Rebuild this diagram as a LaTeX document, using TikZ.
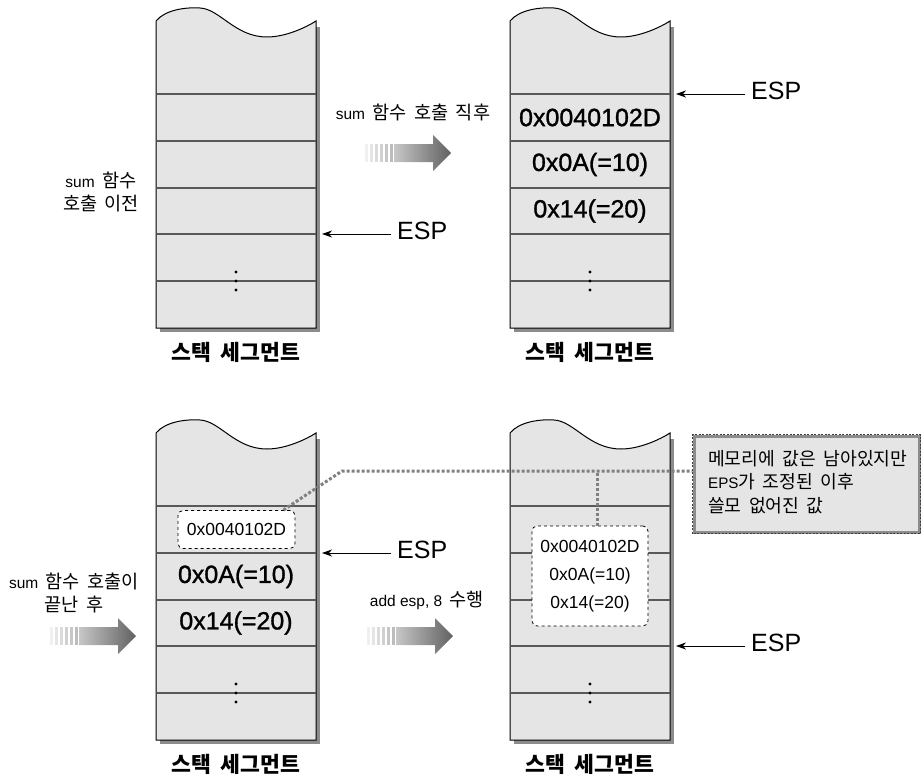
\documentclass[tikz,border=0pt]{standalone}
\usepackage{fontspec}
\setmainfont{Liberation Sans}
\newfontfamily\kr{Noto Sans CJK KR}[Scale=1.2, WordSpace=1.8]
\newfontfamily\valfont{Liberation Sans}[FakeBold=1.2]
\usetikzlibrary{arrows.meta}

\tikzset{
  stackbody/.style={fill=black!10, draw=black, line width=1pt},
  rowline/.style={draw=black!65, line width=1.2pt},
  valtext/.style={font=\valfont\fontsize{25}{28}\selectfont, inner sep=0pt},
  esptext/.style={font=\fontsize{25}{28}\selectfont, inner sep=0pt, anchor=west},
  esparrow/.style={draw, line width=1pt, -{Stealth[length=10pt,width=7pt,inset=3pt]}},
  note/.style={font=\fontsize{15.5}{23}\selectfont, align=center, inner sep=0pt},
  segtext/.style={font=\kr\bfseries\fontsize{18}{24}\selectfont, inner sep=0pt},
  smallbox/.style={draw, dashed, fill=white, rounded corners=5pt, line width=0.8pt,
    font=\fontsize{17.5}{28}\selectfont, align=center, inner sep=0pt},
  dotline/.style={draw=black!50, line width=3pt, dash pattern=on 3pt off 2pt},
  notebox/.style={fill=black!10, draw=black!45, line width=3pt, inner sep=0pt},
  notetext/.style={font=\fontsize{15.2}{23.5}\selectfont, align=left, inner sep=0pt, anchor=west},
}

\newcommand\drawstack[3]{%
  \fill[black!45] (#1+160,#2+6) rectangle (#1+163.5,#2+310.5);
  \fill[black!45] (#1+4,#2+307) rectangle (#1+163.5,#2+310.5);
  \path[stackbody] (#1,#2) .. controls (#1+9,#2-11) and (#1+29,#2-14) .. (#1+44,#2-13)
     .. controls (#1+64,#2-12) and (#1+79,#2+16) .. (#1+111,#2+16)
     .. controls (#1+129,#2+16) and (#1+149,#2+7) .. (#1+160,#2)
     -- (#1+160,#2+307) -- (#1,#2+307) -- cycle;
  \foreach \i/\d in {1/73,2/120,3/167,4/213,5/260} {
    \draw[rowline] (#1+0.5,#2+\d) -- (#1+159.5,#2+\d);
    \coordinate (#3-e\i) at (#1+166,#2+\d);
  }
  \coordinate (#3-c1) at (#1+80,#2+96.5);
  \coordinate (#3-c2) at (#1+80,#2+143.5);
  \coordinate (#3-c3) at (#1+80,#2+190);
  \foreach \d in {251,260,269} \fill (#1+80,#2+\d) circle (1.7);
  \node[segtext] (#3-seg) at (#1+80,#2+331.5) {스택 세그먼트};
}

\newcommand\garrow[2]{%
  \foreach \k/\c in {0/6,1/10,2/14,3/18,4/22,5/26}
    \fill[black!\c] (#1+\k*5,#2-9) rectangle (#1+\k*5+2.8,#2+9);
  \shade[left color=black!22,right color=black!62] (#1+29,#2-9) -- (#1+68,#2-9)
    -- (#1+68,#2-18) -- (#1+86,#2) -- (#1+68,#2+18) -- (#1+68,#2+9) -- (#1+29,#2+9) -- cycle;
}

\begin{document}
\begin{tikzpicture}[x=1pt,y=-1pt]
\useasboundingbox (0,0) rectangle (921,776);

\drawstack{156}{21}{tl}
\drawstack{510}{21}{tr}
\drawstack{156}{433}{bl}
\drawstack{510}{433}{br}

% top left
\node[note] (lblA) at (101,192) {sum{\kr~함수}\\{\kr 호출 이전}};
\node[esptext] (espA) at ([xshift=75pt,yshift=3pt]tl-e4) {ESP};
\draw[esparrow] ([xshift=-6pt,yshift=-3pt]espA.west) -- (tl-e4);

% top middle
\node[note] (lblB) at (413,112) {sum{\kr~함수 호출 직후}};
\garrow{365}{153}

% top right
\node[valtext] (v1) at (tr-c1) {0x0040102D};
\node[valtext] (v2) at (tr-c2) {0x0A(=10)};
\node[valtext] (v3) at (tr-c3) {0x14(=20)};
\node[esptext] (espB) at ([xshift=75pt,yshift=3pt]tr-e1) {ESP};
\draw[esparrow] ([xshift=-6pt,yshift=-3pt]espB.west) -- (tr-e1);

% bottom left
\node[note] (lblC) at (74,593) {sum{\kr~함수 호출이}\\{\kr 끝난 후}};
\garrow{50}{636}
\node[smallbox, minimum width=117pt, minimum height=38pt] (sbA) at (236.5,529.5) {0x0040102D};
\node[valtext] (v4) at (bl-c2) {0x0A(=10)};
\node[valtext] (v5) at (bl-c3) {0x14(=20)};
\node[esptext] (espC) at ([xshift=75pt,yshift=3pt]bl-e2) {ESP};
\draw[esparrow] ([xshift=-6pt,yshift=-3pt]espC.west) -- (bl-e2);

% bottom middle
\node[note] (lblD) at (427,600) {add esp, 8{\kr~수행}};
\garrow{367}{636}

% bottom right
\node[smallbox, minimum width=116pt, minimum height=100pt] (sbB) at (590,576)
  {0x0040102D\\0x0A(=10)\\0x14(=20)};
\node[esptext] (espD) at ([xshift=75pt,yshift=3pt]br-e4) {ESP};
\draw[esparrow] ([xshift=-6pt,yshift=-3pt]espD.west) -- (br-e4);

% memo
\node[notebox, minimum width=225pt, minimum height=96pt] (memo) at (806.5,484) {};
\coordinate (j0) at (342,471);
\coordinate (j1) at (597,471);
\draw[dotline] ([xshift=-12pt]sbA.north east) -- (j0) -- (j0 -| memo.west);
\draw[dotline] (sbB.north -| j1) -- (j1);
\node[notebox, minimum width=225pt, minimum height=96pt] (memo2) at (memo.center) {};
\draw[black!75, line width=0.8pt, dash pattern=on 2pt off 1.5pt] (memo.south west) rectangle (memo.north east);
\node[notetext] (memotext) at (708,482)
  {{\kr 메모리에 값은 남아있지만}\\EPS{\kr 가 조정된 이후}\\{\kr 쓸모 없어진 값}};
\end{tikzpicture}
\end{document}
